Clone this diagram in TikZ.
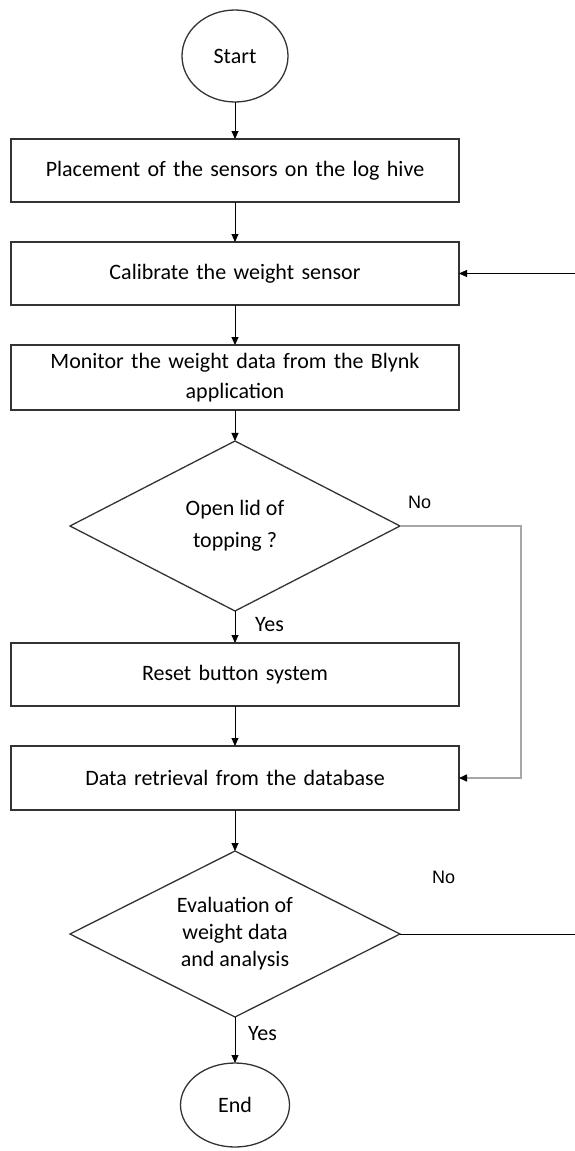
\documentclass[tikz,border=0pt]{standalone}
\usepackage{fontspec}
\setmainfont{Carlito}
\newfontfamily\nofont{Liberation Sans}
\usetikzlibrary{arrows.meta,positioning,shapes.geometric}

\begin{document}
\begin{tikzpicture}[
      node distance=40pt,
      box/.style={rectangle, draw=black!80, line width=1.3pt, outer sep=0pt,
                  align=center, inner sep=3pt, minimum width=448pt,
                  minimum height=63pt, text width=430pt,
                  font=\fontsize{22}{30}\selectfont},
      term/.style={ellipse, draw=black!80, line width=1.3pt, outer sep=0pt,
                  inner sep=0pt, minimum width=106pt, minimum height=92pt,
                  font=\fontsize{22}{26}\selectfont},
      test/.style={diamond, aspect=2, draw=black!80, line width=1.3pt,
                  outer sep=0pt, align=center, inner sep=0pt,
                  minimum width=330pt, minimum height=170pt,
                  font=\fontsize{22}{27}\selectfont},
      arr/.style={-{Triangle[length=8pt,width=7pt]}, line width=0.9pt},
      back/.style={draw=black!35, line width=1.5pt,
                   -{Triangle[length=8pt,width=7pt,color=black]}},
      yes/.style={inner sep=0pt, font=\fontsize{22}{26}\selectfont},
      no/.style={inner sep=0pt, font=\nofont\fontsize{18}{20}\selectfont}
    ]
    \useasboundingbox (0,0) rectangle (575pt,-1151pt);
    \node[term] (start) at (235pt,-56pt) {Start};
    \node[box, below=37pt of start] (place) {Placement of the sensors on the log hive};
    \node[box, below=of place] (calib) {Calibrate the weight sensor};
    \node[box, below=of calib, minimum height=65pt] (monitor) {Monitor the weight data from the Blynk\\application};
    \node[test, below=31pt of monitor] (lid) {Open lid of\\[5pt]topping ?};
    \node[box, below=32pt of lid] (reset) {Reset button system};
    \node[box, below=of reset, minimum height=64pt] (data) {Data retrieval from the database};
    \node[test, below=41pt of data, minimum height=166pt] (eval) {Evaluation of\\weight data\\and analysis};
    \node[term, below=46pt of eval, minimum width=109pt, minimum height=84pt] (end) {End};
    % labels
    \node[yes, below right=6pt and 20pt of lid.south] (yes1) {Yes};
    \node[no, above right=17pt and 8pt of lid.east] (no1) {No};
    \node[yes, below right=9pt and 13pt of eval.south] (yes2) {Yes};
    \node[no, above right=50pt and 32pt of eval.east] (no2) {No};
    \coordinate[right=116pt of calib.east] (calin);
    \coordinate[right=177pt of eval.east] (evalout);
    % connectors
    \draw[arr] (start) -- (place);
    \draw[arr] (place) -- (calib);
    \draw[arr] (calib) -- (monitor);
    \draw[arr] (monitor) -- (lid);
    \draw[arr] (lid) -- (reset);
    \draw[arr] (reset) -- (data);
    \draw[arr] (data) -- (eval);
    \draw[arr] (eval) -- (end);
    \draw[arr] (calin) -- (calib);
    \draw[back] (lid.east) -- ++(121pt,0) |- (data.east);
    \draw[line width=0.9pt] (eval.east) -- (evalout);
  \end{tikzpicture}
\end{document}
